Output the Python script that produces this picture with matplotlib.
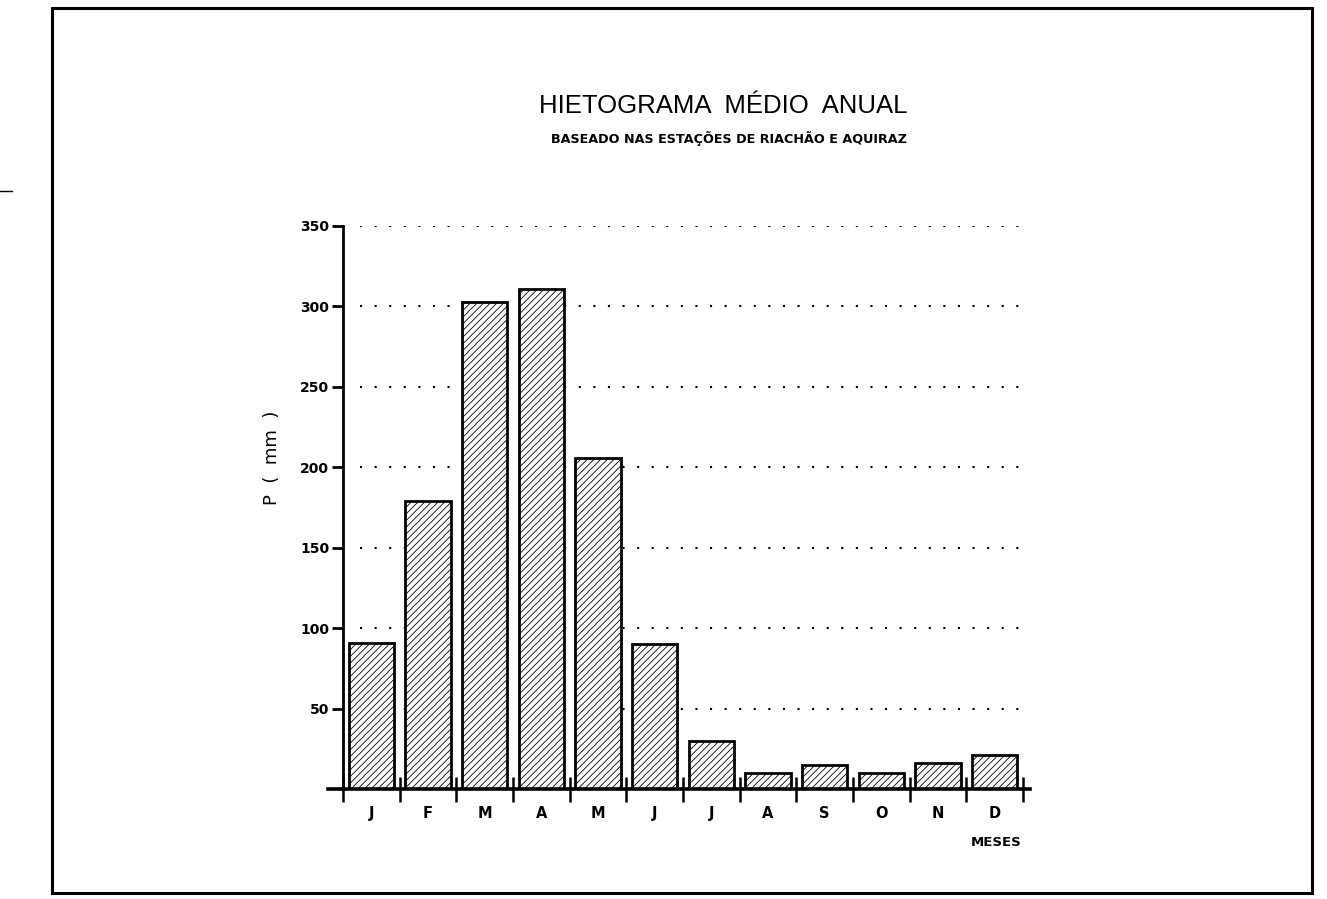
import matplotlib.pyplot as plt
from matplotlib.patches import Rectangle
from matplotlib.lines import Line2D
import numpy as np

months = ["J", "F", "M", "A", "M", "J", "J", "A", "S", "O", "N", "D"]
precip = [91, 179, 303, 311, 206, 90, 30, 10, 15, 10, 16, 21]
yticks = [50, 100, 150, 200, 250, 300, 350]

plt.rcParams["hatch.linewidth"] = 0.6

W, H = 1327, 899
fig = plt.figure(figsize=(W / 100, H / 100), dpi=100)

# axes placed so that x=0 sits at px 343 and y=0 at px 789
x0, x1 = 327.7, 1029.8
ytop, ybot = 226, 789
ax = fig.add_axes([x0 / W, 1 - ybot / H, (x1 - x0) / W, (ybot - ytop) / H])
ax.set_xlim(-0.27, 12.12)
ax.set_ylim(0, 350)

pos = np.arange(len(months)) + 0.5
ax.bar(pos, precip, width=0.8, facecolor="white", edgecolor="black",
       linewidth=2, hatch="/////", zorder=2)

ax.hlines(yticks, 0.3, 12.2, colors="black", linewidth=1.5,
          linestyles=(0, (1, 6)), zorder=1)

for s in ["top", "right"]:
    ax.spines[s].set_visible(False)
ax.spines["left"].set_position(("data", 0))
ax.spines["left"].set_linewidth(2)
ax.spines["bottom"].set_linewidth(2.6)

ax.set_yticks(yticks)
ax.set_yticklabels([str(v) for v in yticks], fontsize=10, fontweight="bold")
ax.tick_params(axis="y", direction="out", length=8, width=2, pad=2)

ax.set_xticks(np.arange(13))
ax.set_xticklabels([])
ax.tick_params(axis="x", which="major", direction="inout", length=18, width=1.8)
ax.set_xticks(pos, minor=True)
ax.set_xticklabels(months, minor=True, fontsize=10.5, fontweight="bold")
ax.tick_params(axis="x", which="minor", length=0, pad=12)

fig.text(272 / W, 1 - 458 / H, "P  (  mm  )", rotation=90, fontsize=13,
         ha="center", va="center")
fig.text(1022 / W, 1 - 843 / H, "MESES", fontsize=9.5, fontweight="bold",
         ha="right", va="center")

fig.text(723 / W, 1 - 106 / H, "HIETOGRAMA  MÉDIO  ANUAL", fontsize=18.5,
         family="Liberation Sans", ha="center", va="center")
fig.text(729 / W, 1 - 139 / H, "BASEADO NAS ESTAÇÕES DE RIACHÃO E AQUIRAZ",
         fontsize=9.2, fontweight="bold", ha="center", va="center")

fig.patches.append(Rectangle((52 / W, 1 - 893 / H), (1312 - 52) / W, (893 - 8) / H,
                             transform=fig.transFigure, fill=False,
                             edgecolor="black", linewidth=2.2))
fig.lines.append(Line2D([0, 12 / W], [1 - 191 / H, 1 - 191 / H],
                        transform=fig.transFigure, color="black", linewidth=1))

fig.savefig("out.png", dpi=100)
